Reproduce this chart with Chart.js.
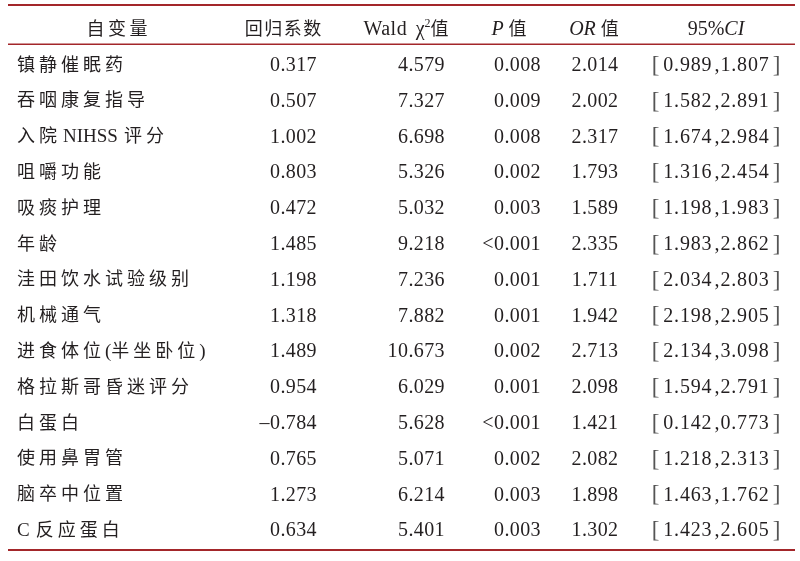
<!DOCTYPE html>
<html>
<head>
<meta charset="utf-8">
<script src="https://cdn.jsdelivr.net/npm/chart.js@4.4.1/dist/chart.umd.min.js"></script>
<style>
  html, body { margin: 0; padding: 0; background: #ffffff; }
  #wrap { width: 800px; height: 561px; position: relative; }
</style>
</head>
<body>
<div id="wrap"><canvas id="c"></canvas></div>
<script>
// ---------------- DATA ----------------
const variables = ['镇静催眠药', '吞咽康复指导', '入院 NIHSS 评分', '咀嚼功能', '吸痰护理', '年龄',
  '洼田饮水试验级别', '机械通气', '进食体位(半坐卧位)', '格拉斯哥昏迷评分', '白蛋白', '使用鼻胃管',
  '脑卒中位置', 'C 反应蛋白'];
const coef   = [0.317, 0.507, 1.002, 0.803, 0.472, 1.485, 1.198, 1.318, 1.489, 0.954, -0.784, 0.765, 1.273, 0.634];
const wald   = [4.579, 7.327, 6.698, 5.326, 5.032, 9.218, 7.236, 7.882, 10.673, 6.029, 5.628, 5.071, 6.214, 5.401];
const pVals  = ['0.008', '0.009', '0.008', '0.002', '0.003', '<0.001', '0.001', '0.001', '0.002', '0.001', '<0.001', '0.002', '0.003', '0.003'];
const orVals = [2.014, 2.002, 2.317, 1.793, 1.589, 2.335, 1.711, 1.942, 2.713, 2.098, 1.421, 2.082, 1.898, 1.302];
const ciLow  = [0.989, 1.582, 1.674, 1.316, 1.198, 1.983, 2.034, 2.198, 2.134, 1.594, 0.142, 1.218, 1.463, 1.423];
const ciHigh = [1.807, 2.891, 2.984, 2.454, 1.983, 2.862, 2.803, 2.905, 3.098, 2.791, 0.773, 2.313, 1.762, 2.605];
const HEADER_KEY = '__header__';

// ---------------- LAYOUT / STYLE ----------------
const SERIF = '"Liberation Serif", "Times New Roman", serif';
const CJK = '"Noto Sans CJK SC", sans-serif';
const TEXT_COLOR = '#231f20';
const RULE_COLOR = '#a3262a';
const SERIF_DY = 2; // vertical alignment of serif text against CJK text

const fonts = {
  cjk: '18px ' + CJK,
  serif: '20px ' + SERIF,
  label: '19px ' + SERIF,
  italic: 'italic 20px ' + SERIF,
  sup: '12px ' + SERIF,
  bracket: '300 23px ' + SERIF
};

// column anchors on the x scale (0..800) and text alignment
const columns = [
  { x: 17,  align: 'left',   header: [{t: '自变量', f: 'cjk', ls: 3.5}], headerX: 117 },
  { x: 317, align: 'right',  header: [{t: '回归系数', f: 'cjk', ls: 1.5}], headerX: 283 },
  { x: 445, align: 'right',  header: [{t: 'Wald', f: 'serif', ls: 0.5}, {gap: 9}, {t: 'χ', f: 'serif'}, {t: '2', f: 'sup'}, {t: '值', f: 'cjk'}], headerX: 406 },
  { x: 541, align: 'right',  header: [{t: 'P', f: 'italic'}, {gap: 5}, {t: '值', f: 'cjk'}], headerX: 509 },
  { x: 595, align: 'center', header: [{t: 'OR', f: 'italic'}, {gap: 5}, {t: '值', f: 'cjk'}], headerX: 594 },
  { x: 716, align: 'center', header: [{t: '95%', f: 'serif'}, {t: 'CI', f: 'italic'}], headerX: 716 }
];

function fmt3(v) { return (v < 0 ? '\u2013' : '') + Math.abs(v).toFixed(3); }

const cellText = [
  i => variables[i],
  i => fmt3(coef[i]),
  i => fmt3(wald[i]),
  i => pVals[i],
  i => fmt3(orVals[i]),
  i => null
];

const datasets = columns.map((col, ci) => ({
  label: 'col' + ci,
  data: variables.map(v => ({ x: col.x, y: v })),
  pointRadius: 0,
  pointHoverRadius: 0,
  showLine: false
}));

function measurePiece(ctx, p) {
  if (p.gap !== undefined) return p.gap;
  ctx.font = fonts[p.f];
  ctx.letterSpacing = (p.ls || 0) + 'px';
  return ctx.measureText(p.t).width - (p.ls || 0);
}

function drawPieces(ctx, pieces, ax, cy, align) {
  const widths = pieces.map(p => measurePiece(ctx, p));
  const total = widths.reduce((a, b) => a + b, 0);
  let x = align === 'left' ? ax : ax - total / 2;
  pieces.forEach((p, k) => {
    if (p.gap === undefined) {
      ctx.font = fonts[p.f];
      ctx.letterSpacing = (p.ls || 0) + 'px';
      ctx.textAlign = 'left';
      ctx.textBaseline = 'middle';
      const saved = ctx.fillStyle;
      if (p.color) ctx.fillStyle = p.color;
      let dy = (p.f === 'cjk') ? 0 : SERIF_DY;
      if (p.f === 'sup') dy -= 6;
      ctx.fillText(p.t, x, cy + dy);
      ctx.fillStyle = saved;
    }
    x += widths[k];
  });
  ctx.letterSpacing = '0px';
}

// split a label into CJK runs (tracked) and Latin runs (serif)
function labelPieces(str) {
  const out = [];
  for (const ch of str) {
    const isCJK = ch.charCodeAt(0) > 0x2E80;
    if (ch === ' ') { out.push({gap: 6}); continue; }
    if (isCJK) { out.push({t: ch, f: 'cjk'}); out.push({gap: 4}); }
    else {
      const last = out[out.length - 1];
      if (last && last.f === 'label') last.t += ch;
      else out.push({t: ch, f: 'label'});
    }
  }
  for (let k = out.length - 1; k > 0; k--) {
    if (out[k].gap === 6 && out[k - 1].gap === 4) out.splice(k - 1, 1);
  }
  return out;
}

const tablePlugin = {
  id: 'tablePlugin',
  afterDatasetsDraw(chart) {
    const ctx = chart.ctx;
    const xs = chart.scales.x, ys = chart.scales.y;
    const area = chart.chartArea;
    ctx.save();
    ctx.fillStyle = TEXT_COLOR;

    // header
    const yHead = ys.getPixelForValue(0);
    columns.forEach(col => drawPieces(ctx, col.header, xs.getPixelForValue(col.headerX), yHead, 'center'));

    // cells
    chart.data.datasets.forEach((ds, ci) => {
      const meta = chart.getDatasetMeta(ci);
      const col = columns[ci];
      meta.data.forEach((el, i) => {
        const x = el.x, y = el.y;
        ctx.textBaseline = 'middle';
        if (ci === 0) {
          drawPieces(ctx, labelPieces(cellText[0](i)), x, y, 'left');
        } else if (ci === 5) {
          drawPieces(ctx, [
            {t: '[', f: 'bracket', color: '#555'}, {gap: 4},
            {t: ciLow[i].toFixed(3), f: 'serif', ls: 0.8}, {gap: 3}, {t: ',', f: 'serif'}, {gap: 1},
            {t: ciHigh[i].toFixed(3), f: 'serif', ls: 0.8}, {gap: 4}, {t: ']', f: 'bracket', color: '#555'}
          ], x, y, 'center');
        } else {
          ctx.font = fonts.serif;
          ctx.letterSpacing = '0.4px';
          ctx.textAlign = col.align;
          ctx.fillText(cellText[ci](i), x, y + SERIF_DY);
          ctx.letterSpacing = '0px';
        }
      });
    });

    // rules
    const x0 = xs.getPixelForValue(8), x1 = xs.getPixelForValue(795);
    const yRow1 = ys.getPixelForValue(1);
    ctx.strokeStyle = RULE_COLOR;
    ctx.lineWidth = 2;
    ctx.beginPath(); ctx.moveTo(x0, area.top - 5); ctx.lineTo(x1, area.top - 5); ctx.stroke();
    ctx.beginPath(); ctx.moveTo(x0, area.bottom + 3); ctx.lineTo(x1, area.bottom + 3); ctx.stroke();
    ctx.lineWidth = 1.4;
    const yh = (yHead + yRow1) / 2 - 1.5;
    ctx.beginPath(); ctx.moveTo(x0, yh); ctx.lineTo(x1, yh); ctx.stroke();
    ctx.restore();
  }
};

new Chart(document.getElementById('c'), {
  type: 'scatter',
  data: { datasets },
  options: {
    responsive: true,
    maintainAspectRatio: false,
    animation: false,
    events: [],
    layout: { padding: { top: 10, bottom: 14, left: 0, right: 0 } },
    plugins: { legend: { display: false }, tooltip: { enabled: false } },
    scales: {
      x: { type: 'linear', min: 0, max: 800, display: false },
      y: { type: 'category', labels: [HEADER_KEY, ...variables], offset: true, display: false, grid: { display: false } }
    }
  },
  plugins: [tablePlugin]
});
</script>
</body>
</html>
